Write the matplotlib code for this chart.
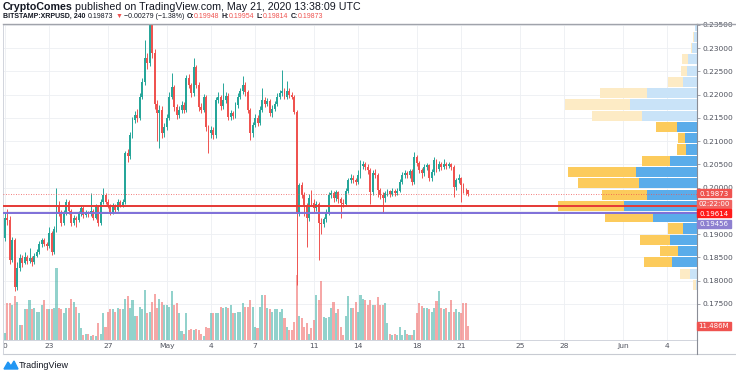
import numpy as np
import matplotlib.pyplot as plt
import matplotlib.dates as mdates
from matplotlib.transforms import blended_transform_factory
from matplotlib.patches import Rectangle, Polygon
from matplotlib.lines import Line2D

W, H = 736, 375

# BITSTAMP:XRPUSD, 4h candles starting 2020-04-20 00:00 UTC
start = np.datetime64('2020-04-20T00:00')
first_open = 0.1893
closes = [0.1935, 0.1930, 0.1845, 0.1888, 0.1786, 0.1828, 0.1848, 0.1839, 0.1850, 0.1843,
          0.1848, 0.1840, 0.1854, 0.1861, 0.1878, 0.1887, 0.1880, 0.1875, 0.1902, 0.1861,
          0.1912, 0.1958, 0.1947, 0.1925, 0.1947, 0.1969, 0.1950, 0.1925, 0.1936, 0.1930,
          0.1945, 0.1956, 0.1941, 0.1947, 0.1943, 0.1950, 0.1936, 0.1958, 0.1925, 0.1969,
          0.1984, 0.1970, 0.1962, 0.1947, 0.1962, 0.1953, 0.1970, 0.1962, 0.1970, 0.2074,
          0.2068, 0.2113, 0.2145, 0.2156, 0.2150, 0.2195, 0.2227, 0.2279, 0.2268, 0.2355,
          0.2290, 0.2180, 0.2160, 0.2168, 0.2117, 0.2130, 0.2150, 0.2195, 0.2216, 0.2173,
          0.2156, 0.2167, 0.2178, 0.2167, 0.2236, 0.2221, 0.2203, 0.2259, 0.2221, 0.2173,
          0.2167, 0.2195, 0.2130, 0.2117, 0.2124, 0.2113, 0.2188, 0.2195, 0.2175, 0.2188,
          0.2197, 0.2152, 0.2160, 0.2155, 0.2178, 0.2195, 0.2208, 0.2221, 0.2205, 0.2167,
          0.2117, 0.2135, 0.2150, 0.2139, 0.2167, 0.2188, 0.2180, 0.2186, 0.2160, 0.2170,
          0.2180, 0.2195, 0.2203, 0.2208, 0.2195, 0.2208, 0.2199, 0.2195, 0.2163, 0.1947,
          0.2005, 0.1984, 0.1960, 0.1934, 0.1979, 0.1968, 0.1956, 0.1966, 0.1925, 0.1922,
          0.1932, 0.1947, 0.1984, 0.1988, 0.1978, 0.1990, 0.1975, 0.1968, 0.1965, 0.1994,
          0.2016, 0.2022, 0.2016, 0.2012, 0.2027, 0.2047, 0.2050, 0.2044, 0.2038, 0.1990,
          0.2031, 0.2027, 0.1995, 0.1984, 0.1977, 0.1988, 0.1992, 0.1986, 0.1994, 0.1988,
          0.1993, 0.2012, 0.2027, 0.2031, 0.2027, 0.2035, 0.2012, 0.2066, 0.2053, 0.2038,
          0.2031, 0.2044, 0.2048, 0.2020, 0.2033, 0.2059, 0.2040, 0.2050, 0.2044, 0.2050,
          0.2046, 0.2050, 0.2044, 0.2001, 0.2016, 0.2020, 0.2005, 0.1995, 0.19948, 0.19873]
highs = [0.1945, 0.1955, 0.1940, 0.1895, 0.1892, 0.1840, 0.1858, 0.1855, 0.1862, 0.1856,
         0.1870, 0.1853, 0.1860, 0.1868, 0.1885, 0.1893, 0.1892, 0.1884, 0.1915, 0.1906,
         0.1918, 0.1999, 0.1972, 0.1952, 0.1953, 0.1975, 0.1974, 0.1955, 0.1942, 0.1940,
         0.1950, 0.1962, 0.1960, 0.1953, 0.1951, 0.1988, 0.1954, 0.1964, 0.1962, 0.1975,
         0.1999, 0.1988, 0.1976, 0.1966, 0.1968, 0.1966, 0.1976, 0.1974, 0.1976, 0.2080,
         0.2083, 0.2120, 0.2152, 0.2165, 0.2170, 0.2203, 0.2235, 0.2318, 0.2290, 0.2385,
         0.2370, 0.2298, 0.2188, 0.2178, 0.2175, 0.2140, 0.2158, 0.2205, 0.2246, 0.2222,
         0.2180, 0.2175, 0.2186, 0.2184, 0.2242, 0.2245, 0.2226, 0.2280, 0.2265, 0.2228,
         0.2182, 0.2202, 0.2200, 0.2136, 0.2132, 0.2130, 0.2195, 0.2206, 0.2200, 0.2225,
         0.2206, 0.2203, 0.2168, 0.2166, 0.2185, 0.2203, 0.2215, 0.2240, 0.2228, 0.2210,
         0.2172, 0.2142, 0.2158, 0.2156, 0.2175, 0.2215, 0.2195, 0.2193, 0.2190, 0.2178,
         0.2186, 0.2203, 0.2210, 0.2253, 0.2215, 0.2230, 0.2215, 0.2206, 0.2200, 0.2168,
         0.2010, 0.2012, 0.1990, 0.1968, 0.1986, 0.1995, 0.1975, 0.1972, 0.1970, 0.1935,
         0.1938, 0.1955, 0.1990, 0.1995, 0.1992, 0.1996, 0.1994, 0.1980, 0.1975, 0.2000,
         0.2022, 0.2030, 0.2028, 0.2022, 0.2038, 0.2059, 0.2058, 0.2056, 0.2050, 0.2042,
         0.2038, 0.2040, 0.2032, 0.2000, 0.1990, 0.1994, 0.1998, 0.1996, 0.2000, 0.1998,
         0.1999, 0.2018, 0.2033, 0.2038, 0.2036, 0.2040, 0.2040, 0.2076, 0.2070, 0.2058,
         0.2042, 0.2050, 0.2054, 0.2052, 0.2040, 0.2066, 0.2062, 0.2057, 0.2055, 0.2062,
         0.2055, 0.2056, 0.2054, 0.2048, 0.2022, 0.2030, 0.2024, 0.2010, 0.2000, 0.19954]
lows = [0.1885, 0.1920, 0.1835, 0.1840, 0.1779, 0.1780, 0.1822, 0.1830, 0.1835, 0.1836,
        0.1838, 0.1832, 0.1836, 0.1850, 0.1858, 0.1872, 0.1874, 0.1866, 0.1870, 0.1855,
        0.1858, 0.1905, 0.1940, 0.1918, 0.1920, 0.1942, 0.1944, 0.1918, 0.1920, 0.1915,
        0.1926, 0.1940, 0.1936, 0.1937, 0.1938, 0.1940, 0.1930, 0.1932, 0.1918, 0.1920,
        0.1965, 0.1965, 0.1957, 0.1942, 0.1944, 0.1948, 0.1950, 0.1958, 0.1958, 0.1966,
        0.2055, 0.2062, 0.2108, 0.2140, 0.2142, 0.2145, 0.2190, 0.2222, 0.2255, 0.2262,
        0.2280, 0.2170, 0.2100, 0.2085, 0.2108, 0.2110, 0.2125, 0.2145, 0.2190, 0.2165,
        0.2148, 0.2150, 0.2160, 0.2160, 0.2162, 0.2215, 0.2196, 0.2198, 0.2214, 0.2165,
        0.2160, 0.2162, 0.2122, 0.2074, 0.2108, 0.2105, 0.2108, 0.2182, 0.2168, 0.2170,
        0.2182, 0.2145, 0.2146, 0.2148, 0.2150, 0.2172, 0.2190, 0.2202, 0.2198, 0.2160,
        0.2102, 0.2110, 0.2130, 0.2132, 0.2134, 0.2162, 0.2174, 0.2175, 0.2154, 0.2152,
        0.2165, 0.2175, 0.2190, 0.2198, 0.2190, 0.2190, 0.2194, 0.2190, 0.2158, 0.1790,
        0.1940, 0.1978, 0.1940, 0.1872, 0.1928, 0.1960, 0.1948, 0.1950, 0.1844, 0.1900,
        0.1915, 0.1926, 0.1942, 0.1978, 0.1970, 0.1972, 0.1968, 0.1934, 0.1958, 0.1960,
        0.1988, 0.2010, 0.2010, 0.2005, 0.2008, 0.2022, 0.2040, 0.2038, 0.2030, 0.1966,
        0.1985, 0.2020, 0.1980, 0.1976, 0.1945, 0.1970, 0.1982, 0.1980, 0.1982, 0.1982,
        0.1984, 0.1990, 0.2008, 0.2022, 0.2020, 0.2022, 0.2006, 0.2008, 0.2046, 0.2032,
        0.2022, 0.2026, 0.2038, 0.2014, 0.2015, 0.2028, 0.2034, 0.2036, 0.2038, 0.2040,
        0.2040, 0.2042, 0.2038, 0.1980, 0.1995, 0.2010, 0.1970, 0.1988, 0.1985, 0.19814]
# volume, millions XRP
volumes = [5.5, 30, 30, 29, 36, 31, 12, 12, 25, 25,
           33, 25, 26, 23, 23, 29, 33, 25, 25, 25,
           26, 59, 26, 25, 22, 26, 26, 34, 31, 27,
           22, 10, 4, 5, 5, 3, 4, 3, 14, 5,
           22, 11, 23, 25, 25, 23, 26, 25, 25, 34,
           36, 26, 33, 20, 20, 27, 25, 41, 22, 23,
           31, 38, 26, 34, 31, 29, 29, 27, 40, 29,
           30, 22, 7, 5, 22, 8, 9, 8, 9, 8,
           5, 3, 11, 10, 22, 22, 22, 22, 27, 26,
           27, 26, 29, 22, 22, 23, 23, 30, 27, 27,
           33, 27, 11, 10, 27, 37, 37, 26, 25, 23,
           25, 25, 23, 25, 18, 11, 8, 8, 15, 53,
           20, 18, 11, 14, 5, 10, 16, 37, 33, 48,
           19, 18, 19, 26, 31, 22, 25, 11, 4, 20,
           36, 26, 26, 31, 23, 37, 34, 33, 29, 33,
           29, 29, 35, 29, 29, 30, 14, 5, 4, 5,
           4, 11, 4, 8, 5, 4, 4, 8, 22, 30,
           28, 26, 26, 25, 23, 26, 32, 40, 26, 25,
           26, 23, 33, 23, 25, 23, 22, 30, 30, 11.486]

# visible range volume profile, rows from low to high price
vp_low, vp_high = 0.1779, 0.2361
vp_up = [1, 7, 25, 19, 27, 14, 44, 73, 50, 58, 61, 27, 11, 12, 20, 55, 67, 50, 14, 10, 9, 5, 3, 2]
vp_down = [3, 10, 28, 18, 30, 15, 48, 66, 45, 61, 68, 28, 9, 7, 21, 50, 65, 47, 15, 6, 6, 1, 1, 0.5]
vp_value_area = (2, 14)  # first and last row inside the value area

last_price = 0.19873
poc_price = 0.19614
hline_price = 0.19456

price_ticks = [0.175, 0.180, 0.185, 0.190, 0.195, 0.200, 0.205, 0.210, 0.215, 0.220, 0.225,
               0.230, 0.235]
tick_dates = ['2020-04-20', '2020-04-23', '2020-04-27', '2020-05-01', '2020-05-04', '2020-05-07',
              '2020-05-11', '2020-05-14', '2020-05-18', '2020-05-21', '2020-05-25', '2020-05-28',
              '2020-06-01', '2020-06-04']
tick_labels = ['0', '23', '27', 'May', '4', '7', '11', '14', '18', '21', '25', '28', 'Jun', '4']

UP, DOWN = '#26A69A', '#EF5350'
TXT = '#131722'
FONT = 'Liberation Sans'

fig = plt.figure(figsize=(W / 100, H / 100), dpi=100)
fig.patch.set_facecolor('white')
ax = fig.add_axes([3 / W, 1 - 340 / H, 694 / W, 316 / H])

n = len(closes)
times = start + np.arange(n) * np.timedelta64(4, 'h')
xs = mdates.date2num(times)
opens = np.array([first_open] + closes[:-1])
closes = np.array(closes)
highs = np.array(highs)
lows = np.array(lows)
up = closes >= opens
colors = np.where(up, UP, DOWN)

x0 = mdates.date2num(start)
px_day = 14.71
ax.set_xlim(x0 - 2 / px_day, x0 + 692 / px_day)
ax.set_ylim(0.235 - 315 / 4650, 0.235 + 1 / 4650)

ax.grid(True, color='#EDEFF3', lw=0.6)
ax.set_axisbelow(True)

# volume profile, drawn from the price scale leftwards
trans_vp = blended_transform_factory(ax.transAxes, ax.transData)
edges = np.linspace(vp_low, vp_high, len(vp_up) + 1)
centers = (edges[:-1] + edges[1:]) / 2
row_h = (edges[1] - edges[0]) * 0.9
vp_up = np.array(vp_up)
vp_down = np.array(vp_down)
rows = np.arange(len(vp_up))
in_va = (rows >= vp_value_area[0]) & (rows <= vp_value_area[1])
c_up = np.where(in_va, '#5AACEA', '#C9E3F8')
c_dn = np.where(in_va, '#FCCB5C', '#FDEBC5')
ax.barh(centers, vp_up / 694, left=1 - vp_up / 694, height=row_h, color=c_up,
        transform=trans_vp, zorder=1)
ax.barh(centers, vp_down / 694, left=1 - (vp_up + vp_down) / 694, height=row_h, color=c_dn,
        transform=trans_vp, zorder=1)

# volume bars at the bottom of the pane
trans_vol = blended_transform_factory(ax.transData, ax.transAxes)
ax.bar(xs, np.array(volumes) / 259, width=0.14, bottom=0, color=colors, alpha=0.5,
       transform=trans_vol, zorder=1.5)

# candles
ax.vlines(xs, lows, highs, color=colors, lw=0.7, zorder=2)
body = np.maximum(np.abs(closes - opens), 0.00008)
ax.bar(xs, body, bottom=np.minimum(opens, closes), width=0.13, color=colors, zorder=2.5)

ax.axhline(last_price, color=DOWN, lw=0.6, ls=(0, (1, 2)), zorder=3)
ax.axhline(poc_price, color='#E53935', lw=1.4, zorder=3)
ax.axhline(hline_price, color='#7E6FD8', lw=1.4, zorder=3)

ax.yaxis.tick_right()
# the 0.19500 label sits under the line tags on the price scale
ax.set_yticks(price_ticks, ['' if p == 0.195 else '%.5f' % p for p in price_ticks])
ax.tick_params(axis='y', length=2.5, width=0.6, color='#9598A1', labelsize=5.4,
               labelcolor='#50535E', pad=1.5)
ax.set_xticks(mdates.date2num(np.array(tick_dates, dtype='datetime64[D]')), tick_labels)
ax.tick_params(axis='x', length=0, labelsize=5.4, labelcolor='#50535E', pad=2.5)

for s in ['left', 'bottom']:
    ax.spines[s].set_color('#D1D4DC')
    ax.spines[s].set_linewidth(0.7)
ax.spines['right'].set_color('#8A8D96')
ax.spines['right'].set_linewidth(0.8)
ax.spines['top'].set_color('#A0A3AB')
ax.spines['top'].set_linewidth(1.0)


def fx(x):
    return x / W


def fy(y):
    return 1 - y / H


fig.add_artist(Line2D([fx(697), fx(736)], [fy(24), fy(24)], color='#A0A3AB', lw=1.0))
fig.add_artist(Line2D([fx(3), fx(736)], [fy(354), fy(354)], color='#C8CBD2', lw=0.8))
fig.add_artist(Line2D([fx(3), fx(3)], [fy(340), fy(354)], color='#D1D4DC', lw=0.7))
fig.add_artist(Line2D([fx(697), fx(697)], [fy(340), fy(354)], color='#8A8D96', lw=0.8))


def tag(yc, text, color):
    fig.patches.append(Rectangle((fx(697), fy(yc + 4)), 34 / W, 8 / H,
                                 transform=fig.transFigure, color=color, zorder=5))
    fig.text(fx(714), fy(yc), text, color='white', fontsize=5.0, ha='center', va='center',
             zorder=6)


tag(193.5, '0.19873', DOWN)
tag(203.5, '02:22:00', '#F06461')
tag(213.5, '0.19614', '#FF1A1A')
tag(223.5, '0.19456', '#8E80D0')
tag(325.5, '11.486M', DOWN)

renderer = fig.canvas.get_renderer()


def write_line(x_px, y_px, pieces, size):
    # place the pieces one after another along the line
    x = x_px
    for gap, txt, color, weight in pieces:
        x += gap
        t = fig.text(fx(x), fy(y_px), txt, color=color, fontsize=size, fontweight=weight,
                     family=FONT, ha='left', va='center')
        x += t.get_window_extent(renderer).width


write_line(3, 7, [(0, 'CryptoComes', TXT, 'bold'),
                  (2, 'published on TradingView.com, May 21, 2020 13:38:09 UTC', TXT, 'normal')],
           7.7)
write_line(3, 16.5, [(0, 'BITSTAMP:XRPUSD, 240', TXT, 'bold'),
                     (2.5, '0.19873', TXT, 'normal'),
                     (2, '\u25bc', DOWN, 'normal'),
                     (2, '\u22120.00279 (\u22121.38%)', TXT, 'normal'),
                     (2, 'O:', TXT, 'bold'), (0, '0.19948', DOWN, 'normal'),
                     (2, 'H:', TXT, 'bold'), (0, '0.19954', DOWN, 'normal'),
                     (2, 'L:', TXT, 'bold'), (0, '0.19814', DOWN, 'normal'),
                     (2, 'C:', TXT, 'bold'), (0, '0.19873', DOWN, 'normal')],
           5.0)

# TradingView logo
logo = Polygon([(fx(4), fy(369)), (fx(8), fy(362)), (fx(11), fy(366)), (fx(14), fy(361)),
                (fx(18), fy(369))], closed=True, transform=fig.transFigure, color='#2196F3')
fig.patches.append(logo)
fig.text(fx(19), fy(365), 'TradingView', color=TXT, fontsize=6.5, family=FONT,
         ha='left', va='center')

fig.savefig('out.png', dpi=100, facecolor='white')
